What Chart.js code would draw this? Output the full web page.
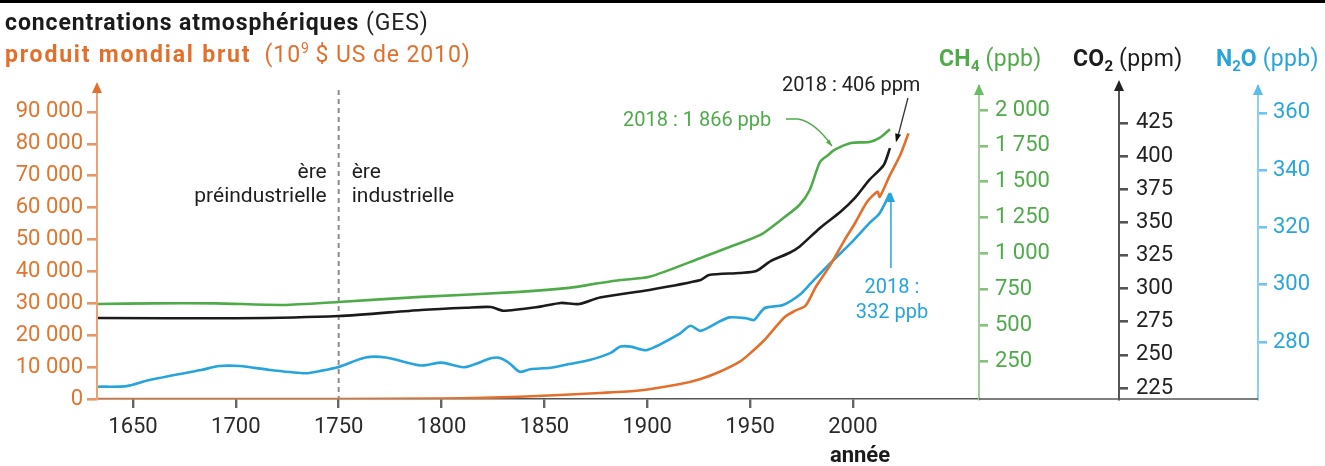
<!DOCTYPE html>
<html lang="fr">
<head>
<meta charset="utf-8">
<title>Concentrations atmosphériques et produit mondial brut</title>
<script src="https://cdn.jsdelivr.net/npm/chart.js@4.4.1/dist/chart.umd.min.js"></script>
<style>
  html, body { margin: 0; padding: 0; background: #fff; }
  #wrap { width: 1325px; height: 466px; }
</style>
</head>
<body>
<div id="wrap"><canvas id="chart" width="1325" height="466"></canvas></div>
<script>
// Produit mondial brut (milliards de $ US de 2010)
const gdpYears  = [1633, 1700, 1750, 1800, 1838, 1877, 1896, 1916, 1926, 1935, 1945, 1950, 1957, 1962, 1967, 1972, 1977, 1982, 1989, 1996, 2001, 2007, 2012, 2013, 2018, 2023, 2027];
const gdpValues = [0, 0, 0, 150, 700, 1900, 2650, 4700, 6300, 8450, 11700, 14300, 18500, 22200, 25800, 27700, 29300, 35200, 42000, 49900, 55100, 61900, 65000, 63400, 70200, 76500, 83300];

// Méthane (ppb)
const ch4Years  = [1633, 1660, 1690, 1723, 1750, 1790, 1838, 1862, 1877, 1887, 1901, 1926, 1940, 1955, 1965, 1974, 1979, 1984, 1988, 1991, 1999, 2008, 2013, 2018];
const ch4Values = [648, 652, 652, 641, 662, 697, 732, 760, 794, 815, 837, 969, 1045, 1129, 1234, 1338, 1443, 1638, 1687, 1722, 1771, 1778, 1806, 1866];

// Dioxyde de carbone (ppm)
const co2Years  = [1633, 1700, 1750, 1790, 1812, 1824, 1830, 1848, 1858, 1867, 1877, 1901, 1926, 1930, 1945, 1953, 1960, 1969, 1974, 1984, 1994, 2001, 2008, 2015, 2018];
const co2Values = [277.8, 277.6, 279.3, 283.9, 285.6, 286.1, 283.3, 286.4, 289.2, 288.4, 293.3, 299, 306.5, 310.3, 311.8, 313.3, 320.8, 326.9, 331.6, 345.8, 358, 368.4, 382, 393.3, 406];

// Protoxyde d'azote (ppb)
const n2oYears  = [1633, 1647, 1658, 1683, 1692, 1702, 1717, 1734, 1741, 1750, 1763, 1773, 1790, 1800, 1811, 1824, 1828, 1833, 1838, 1843, 1853, 1862, 1872, 1882, 1887, 1892, 1900, 1916, 1921, 1926, 1935, 1940, 1948, 1952, 1957, 1966, 1974, 1979, 1989, 1999, 2008, 2013, 2018];
const n2oValues = [264.4, 264.6, 266.7, 270.2, 271.6, 271.6, 270.2, 269.1, 269.9, 271.3, 274.6, 274.6, 271.8, 272.8, 271.2, 274.3, 274.5, 272.6, 269.6, 270.5, 271.0, 272.3, 273.7, 276.1, 278.4, 278.4, 277.2, 283.0, 285.7, 283.9, 287.1, 288.6, 288.3, 287.7, 291.8, 292.9, 296.4, 300.1, 307.5, 314.5, 321.5, 325.0, 332];

const yearTicks = [1650, 1700, 1750, 1800, 1850, 1900, 1950, 2000];
const gdpTicks  = [0, 10000, 20000, 30000, 40000, 50000, 60000, 70000, 80000, 90000];
const ch4Ticks  = [250, 500, 750, 1000, 1250, 1500, 1750, 2000];
const co2Ticks  = [225, 250, 275, 300, 325, 350, 375, 400, 425];
const n2oTicks  = [280, 300, 320, 340, 360];

const eraYear = 1750;

const ORANGE = '#e2702c';
const GREEN = '#4fab4a';
const BLACK = '#1b1b1b';
const BLUE = '#27a4dc';
const FONT = 'Roboto, "DejaVu Sans", sans-serif';

Chart.defaults.font.family = FONT;

const pts = (xs, ys) => xs.map((x, i) => ({ x, y: ys[i] }));
const fmt = v => String(Math.round(v)).replace(/\B(?=(\d{3})+(?!\d))/g, ' ');
const keep = list => scale => { scale.ticks = list.map(v => ({ value: v })); };

function yAxis(color, lineColor, tickColor, list, min, max, step, width, position, tick, pad) {
  return {
    type: 'linear', position, min, max,
    ticks: { stepSize: step, color, padding: pad, font: { size: 22 }, callback: v => fmt(v) },
    afterBuildTicks: keep(list),
    afterFit: s => { s.width = width; },
    grid: { drawOnChartArea: false, drawTicks: true, tickLength: tick, color: tickColor, lineWidth: 2.6 },
    border: { color: lineColor, width: 2 }
  };
}

function line(label, data, color, axis) {
  return {
    label, data, yAxisID: axis,
    borderColor: color, borderWidth: 2.6,
    pointRadius: 0, tension: 0.25, fill: false
  };
}

// texte en plusieurs morceaux (gras / normal / indice)
function runs(ctx, x, y, parts) {
  for (const [t, font, color, dy = 0, ls = '0px'] of parts) {
    ctx.font = font;
    ctx.fillStyle = color;
    ctx.letterSpacing = ls;
    ctx.fillText(t, x, y + dy);
    x += ctx.measureText(t).width;
  }
  ctx.letterSpacing = '0px';
  return x;
}

function arrowUp(ctx, x, tip, color, w = 5, h = 11) {
  ctx.fillStyle = color;
  ctx.beginPath();
  ctx.moveTo(x, tip);
  ctx.lineTo(x - w, tip + h);
  ctx.lineTo(x + w, tip + h);
  ctx.closePath();
  ctx.fill();
}

function arrowTo(ctx, x0, y0, x1, y1, color, size = 8) {
  const a = Math.atan2(y1 - y0, x1 - x0);
  ctx.fillStyle = color;
  ctx.beginPath();
  ctx.moveTo(x1, y1);
  ctx.lineTo(x1 - size * Math.cos(a - 0.35), y1 - size * Math.sin(a - 0.35));
  ctx.lineTo(x1 - size * Math.cos(a + 0.35), y1 - size * Math.sin(a + 0.35));
  ctx.closePath();
  ctx.fill();
}

const decor = {
  id: 'decor',
  beforeDatasetsDraw(chart) {
    const { ctx, chartArea, scales } = chart;
    const x = scales.x.getPixelForValue(eraYear);
    ctx.save();
    ctx.strokeStyle = '#8c8c8c';
    ctx.lineWidth = 2;
    ctx.setLineDash([5, 4]);
    ctx.beginPath();
    ctx.moveTo(x, chartArea.top + 4);
    ctx.lineTo(x, chartArea.bottom);
    ctx.stroke();
    ctx.restore();
  },
  afterDraw(chart) {
    const { ctx, chartArea, scales } = chart;
    const { x: xs, gdp, ch4, co2, n2o } = scales;
    ctx.save();

    // filet noir en haut
    ctx.fillStyle = '#000';
    ctx.fillRect(0, 0, chart.width, 3);

    // titres à gauche
    ctx.textAlign = 'left';
    ctx.textBaseline = 'alphabetic';
    runs(ctx, 5, 30, [
      ['concentrations atmosphériques', `bold 23px ${FONT}`, BLACK, 0, '0.9px'],
      [' (GES)', `23px ${FONT}`, '#222', 0, '0.9px']
    ]);
    runs(ctx, 5, 62, [
      ['produit mondial brut', `bold 23px ${FONT}`, ORANGE, 0, '1.8px'],
      ['  (10', `23px ${FONT}`, ORANGE, 0, '0.9px'],
      ['9', `14px ${FONT}`, ORANGE, -9],
      [' $ US de 2010)', `23px ${FONT}`, ORANGE, 0, '0.9px']
    ]);

    // titres des axes de droite
    runs(ctx, 939, 66, [
      ['CH', `bold 23px ${FONT}`, GREEN, 0, '0.3px'],
      ['4', `bold 15px ${FONT}`, GREEN, 5],
      [' (ppb)', `23px ${FONT}`, GREEN, 0, '0.3px']
    ]);
    runs(ctx, 1073, 66, [
      ['CO', `bold 23px ${FONT}`, BLACK, 0, '0.3px'],
      ['2', `bold 15px ${FONT}`, BLACK, 5],
      [' (ppm)', `23px ${FONT}`, BLACK, 0, '0.3px']
    ]);
    runs(ctx, 1216, 66, [
      ['N', `bold 23px ${FONT}`, BLUE],
      ['2', `bold 15px ${FONT}`, BLUE, 5],
      ['O', `bold 23px ${FONT}`, BLUE],
      [' (ppb)', `23px ${FONT}`, BLUE, 0, '0.3px']
    ]);

    // prolongement de l'axe des années sous les axes de droite
    ctx.strokeStyle = '#555';
    ctx.lineWidth = 1.5;
    ctx.beginPath();
    ctx.moveTo(chartArea.right, chartArea.bottom);
    ctx.lineTo(n2o.left, chartArea.bottom);
    ctx.stroke();

    // flèches en haut des axes
    arrowUp(ctx, gdp.right, chartArea.top - 4, ORANGE);
    arrowUp(ctx, ch4.left, chartArea.top - 2, '#6bbb63');
    arrowUp(ctx, co2.left, chartArea.top - 6, '#222');
    arrowUp(ctx, n2o.left, chartArea.top - 2, '#5cbde6');

    // ères
    const xe = xs.getPixelForValue(eraYear);
    ctx.font = `21px ${FONT}`;
    ctx.fillStyle = '#1e1e1e';
    ctx.textBaseline = 'middle';
    ctx.textAlign = 'right';
    ctx.fillText('ère', xe - 12, 173);
    ctx.fillText('préindustrielle', xe - 12, 197);
    ctx.textAlign = 'left';
    ctx.fillText('ère', xe + 13, 173);
    ctx.fillText('industrielle', xe + 13, 197);

    // CO2 2018
    ctx.font = `20px ${FONT}`;
    const pc = { x: xs.getPixelForValue(2018), y: co2.getPixelForValue(406) };
    ctx.textAlign = 'left';
    ctx.fillStyle = '#222';
    ctx.fillText('2018 : 406 ppm', 782, 86);
    ctx.strokeStyle = '#333';
    ctx.lineWidth = 1.3;
    ctx.beginPath();
    ctx.moveTo(pc.x + 18, 98);
    ctx.lineTo(pc.x + 7, pc.y - 8);
    ctx.stroke();
    arrowTo(ctx, pc.x + 18, 98, pc.x + 6, pc.y - 6, '#111', 9);

    // CH4 2018
    ctx.fillStyle = GREEN;
    ctx.fillText('2018 : 1 866 ppb', 623, 121);
    ctx.strokeStyle = GREEN;
    ctx.beginPath();
    ctx.moveTo(786, 119);
    ctx.lineTo(798, 119);
    ctx.quadraticCurveTo(815, 122, 832, 146);
    ctx.stroke();
    arrowTo(ctx, 815, 126, 832, 146, GREEN, 7);

    // N2O 2018
    const pn = { x: xs.getPixelForValue(2018), y: n2o.getPixelForValue(332) };
    ctx.fillStyle = BLUE;
    ctx.textAlign = 'center';
    ctx.fillText('2018 :', pn.x + 2, 288);
    ctx.fillText('332 ppb', pn.x + 2, 313);
    ctx.strokeStyle = BLUE;
    ctx.lineWidth = 1.5;
    ctx.beginPath();
    ctx.moveTo(pn.x + 1, 268);
    ctx.lineTo(pn.x + 1, pn.y + 4);
    ctx.stroke();
    arrowUp(ctx, pn.x + 1, pn.y - 1, BLUE, 4, 10);

    // titre de l'axe des années
    ctx.font = `bold 22px ${FONT}`;
    ctx.fillStyle = BLACK;
    ctx.fillText('année', 860, 456);

    ctx.restore();
  }
};

new Chart(document.getElementById('chart'), {
  type: 'line',
  data: {
    datasets: [
      line('produit mondial brut', pts(gdpYears, gdpValues), ORANGE, 'gdp'),
      line('N2O', pts(n2oYears, n2oValues), BLUE, 'n2o'),
      line('CO2', pts(co2Years, co2Values), BLACK, 'co2'),
      line('CH4', pts(ch4Years, ch4Values), GREEN, 'ch4')
    ]
  },
  options: {
    responsive: false,
    animation: false,
    devicePixelRatio: 1,
    layout: { padding: { top: 86, left: 0, right: 0, bottom: 0 } },
    plugins: { legend: { display: false }, tooltip: { enabled: false } },
    scales: {
      x: {
        type: 'linear', min: 1632.5, max: 2061.3,
        ticks: { stepSize: 50, color: '#2a2a2a', padding: 6, font: { size: 22 }, callback: v => String(v) },
        afterBuildTicks: keep(yearTicks),
        afterFit: s => { s.height = 67; },
        grid: { drawOnChartArea: false, drawTicks: true, tickLength: 9, color: '#666', lineWidth: 2.4 },
        border: { color: '#555', width: 1.5 }
      },
      gdp: yAxis('#e07530', '#eea274', '#eb9563', gdpTicks, 0, 98150, 10000, 97, 'left', 10, 4),
      ch4: yAxis(GREEN, '#9fd098', '#86c17e', ch4Ticks, -15, 2168, 250, 140, 'right', 9, 7),
      co2: yAxis('#222', '#555', '#555', co2Ticks, 216.7, 452.9, 25, 139, 'right', 9, 8),
      n2o: yAxis('#2aa6dc', '#8ccfee', '#72c3ea', n2oTicks, 260.1, 369.4, 20, 67, 'right', 9, 6)
    }
  },
  plugins: [decor]
});
</script>
</body>
</html>
